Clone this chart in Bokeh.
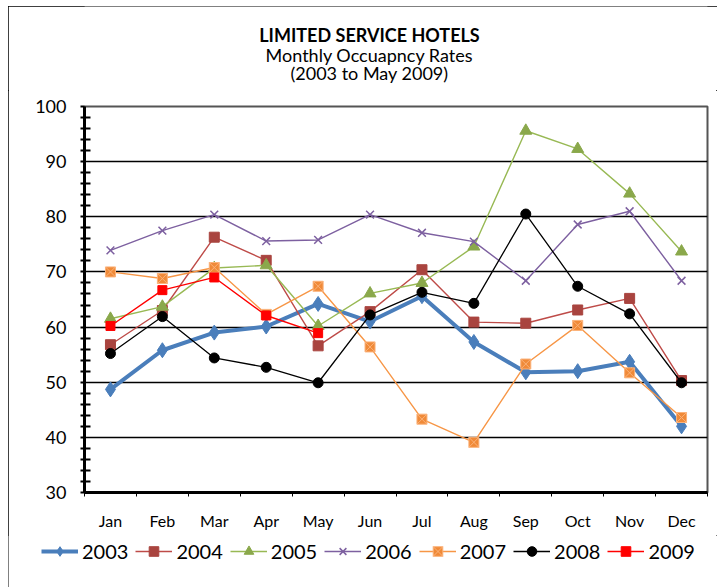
from bokeh.plotting import figure
from bokeh.models import FixedTicker, Legend, LegendItem, Range1d
from bokeh.layouts import column, row
from bokeh.core.properties import value
from bokeh.embed import file_html
from bokeh.resources import INLINE

months = ["Jan", "Feb", "Mar", "Apr", "May", "Jun", "Jul", "Aug", "Sep", "Oct", "Nov", "Dec"]
y2003 = [48.7, 55.8, 59.0, 60.1, 64.2, 61.0, 65.6, 57.3, 51.8, 52.0, 53.7, 42.0]
y2004 = [56.8, 63.0, 76.3, 72.1, 56.6, 62.8, 70.4, 60.9, 60.7, 63.1, 65.2, 50.3]
y2005 = [61.5, 63.7, 70.7, 71.2, 60.2, 66.1, 68.0, 74.6, 95.6, 92.3, 84.2, 73.7]
y2006 = [73.9, 77.5, 80.4, 75.6, 75.8, 80.4, 77.1, 75.5, 68.4, 78.6, 81.0, 68.4]
y2007 = [70.0, 68.8, 70.8, 62.3, 67.4, 56.4, 43.3, 39.1, 53.3, 60.3, 51.7, 43.6]
y2008 = [55.2, 61.9, 54.4, 52.7, 49.9, 62.2, 66.3, 64.3, 80.5, 67.4, 62.4, 49.9]
y2009 = [60.2, 66.7, 69.0, 62.1, 58.9]
years = ["2003", "2004", "2005", "2006", "2007", "2008", "2009"]
y_ticks = [30, 40, 50, 60, 70, 80, 90, 100]
titles = ["LIMITED SERVICE HOTELS", "Monthly Occuapncy Rates", "(2003 to May 2009)"]

FONT = "Lato"
W = 709
BL, BR = 76, 10   # frame borders of the chart (frames of stacked figures align)

# ---- title block (its frame is aligned with the chart frame) ----
TOP_H = 84
top = figure(width=W, height=TOP_H, output_backend="svg", toolbar_location=None,
             x_range=Range1d(84, 707), y_range=Range1d(90, 6),
             x_axis_type=None, y_axis_type=None,
             min_border_left=BL, min_border_right=BR, min_border_top=0, min_border_bottom=0)
top.outline_line_color = None
top.background_fill_color = "white"
top.border_fill_color = "white"
top.grid.visible = False
for txt, yb, size, style in zip(titles, [34, 54, 72], ["18px", "18px", "18px"],
                                ["bold", "normal", "normal"]):
    top.text(x=[369], y=[yb], text=[txt], text_align="center", text_baseline="alphabetic",
             text_font=value(FONT), text_font_size=value(size), text_font_style=style,
             text_color="black")

# ---- main chart ----
p = figure(width=W, height=16 + 386 + 43, output_backend="svg", toolbar_location=None,
           title=None, x_range=Range1d(0.5, 12.5), y_range=Range1d(30, 100),
           min_border_left=BL, min_border_right=BR, min_border_top=16, min_border_bottom=43)
p.background_fill_color = "white"
p.border_fill_color = "white"
p.outline_line_color = "#555555"
p.outline_line_width = 2

xs = list(range(1, 13))
p.xaxis.ticker = FixedTicker(ticks=xs, minor_ticks=[i + 0.5 for i in range(0, 13)])
p.xaxis.major_label_overrides = {i + 1: m for i, m in enumerate(months)}
p.xaxis.major_tick_out = 0
p.xaxis.major_tick_in = 0
p.xaxis.minor_tick_out = 4
p.xaxis.minor_tick_in = 0
p.xaxis.minor_tick_line_color = "black"
p.xaxis.minor_tick_line_width = 1
p.xaxis.major_label_standoff = 14
p.xaxis.axis_line_width = 3
p.xaxis.axis_line_color = "black"

minor_y = [v for v in range(30, 101, 2) if v % 10 != 0]
p.yaxis.ticker = FixedTicker(ticks=y_ticks, minor_ticks=minor_y)
p.yaxis.major_tick_out = 4
p.yaxis.major_tick_in = 0
p.yaxis.minor_tick_out = 4
p.yaxis.minor_tick_in = 6
p.yaxis.major_tick_line_color = "black"
p.yaxis.minor_tick_line_color = "black"
p.yaxis.major_tick_line_width = 2
p.yaxis.minor_tick_line_width = 2
p.yaxis.major_label_standoff = 14
p.yaxis.axis_line_width = 3
p.yaxis.axis_line_color = "black"

for ax in (p.xaxis[0], p.yaxis[0]):
    ax.major_label_text_font = FONT
    ax.major_label_text_color = "black"
p.xaxis.major_label_text_font_size = "16px"
p.yaxis.major_label_text_font_size = "18px"

p.xgrid.visible = False
p.ygrid.ticker = FixedTicker(ticks=y_ticks)
p.ygrid.grid_line_color = "black"
p.ygrid.grid_line_width = 1.5

specs = [
    (y2003, "#4A7EBB", 4.0, "diamond", 15, "#4A7EBB", "#4A7EBB"),
    (y2004, "#BE4B48", 1.4, "square", 10, "#A9443F", "#A9443F"),
    (y2005, "#98B954", 1.4, "triangle", 12, "#8AA84B", "#8AA84B"),
    (y2006, "#7D60A0", 1.4, "x", 11, "#7D60A0", "#7D60A0"),
    (y2007, "#F79646", 1.4, "square_x", 10, "#F08A38", "#FBB27A"),
    (y2008, "#000000", 1.3, "circle", 10, "black", "black"),
    (y2009, "#FF0000", 1.4, "square", 9, "#FF0000", "#FF0000"),
]
for vals, lc, lw, mk, ms, mf, ml in specs:
    xv = xs[:len(vals)]
    p.line(xv, vals, line_color=lc, line_width=lw)
    p.scatter(xv, vals, marker=mk, size=ms, fill_color=mf, line_color=ml,
              line_width=1.5 if mk == "x" else 1)

# ---- legend block ----
LEG_H = 52
leg = figure(width=W, height=LEG_H, output_backend="svg", toolbar_location=None,
             x_range=Range1d(8, 8 + W), y_range=Range1d(587, 587 - LEG_H),
             x_axis_type=None, y_axis_type=None,
             min_border_left=0, min_border_right=0, min_border_top=0, min_border_bottom=0)
leg.outline_line_color = None
leg.background_fill_color = "white"
leg.border_fill_color = "white"
leg.grid.visible = False
items = []
for yr, (vals, lc, lw, mk, ms, mf, ml) in zip(years, specs):
    lr = leg.line([-10, -5], [-10, -10], line_color=lc, line_width=lw)
    sr = leg.scatter([-10], [-10], marker=mk, size=ms, fill_color=mf, line_color=ml,
                     line_width=1.5 if mk == "x" else 1)
    items.append(LegendItem(label=yr, renderers=[lr, sr]))
legend = Legend(items=items, orientation="horizontal", location=(33, 24),
                glyph_width=37, glyph_height=24, label_standoff=4, spacing=7,
                padding=0, margin=0, border_line_color=None, background_fill_alpha=0,
                label_text_font=FONT, label_text_font_size="20px", label_text_color="black")
leg.add_layout(legend, "center")

layout = column(top, p, row(leg, spacing=0), spacing=0, margin=(6, 0, 0, 8),
                styles={"outline": "1px solid black", "outline-offset": "-1px"})

open("out.html", "w").write(file_html(layout, INLINE))
